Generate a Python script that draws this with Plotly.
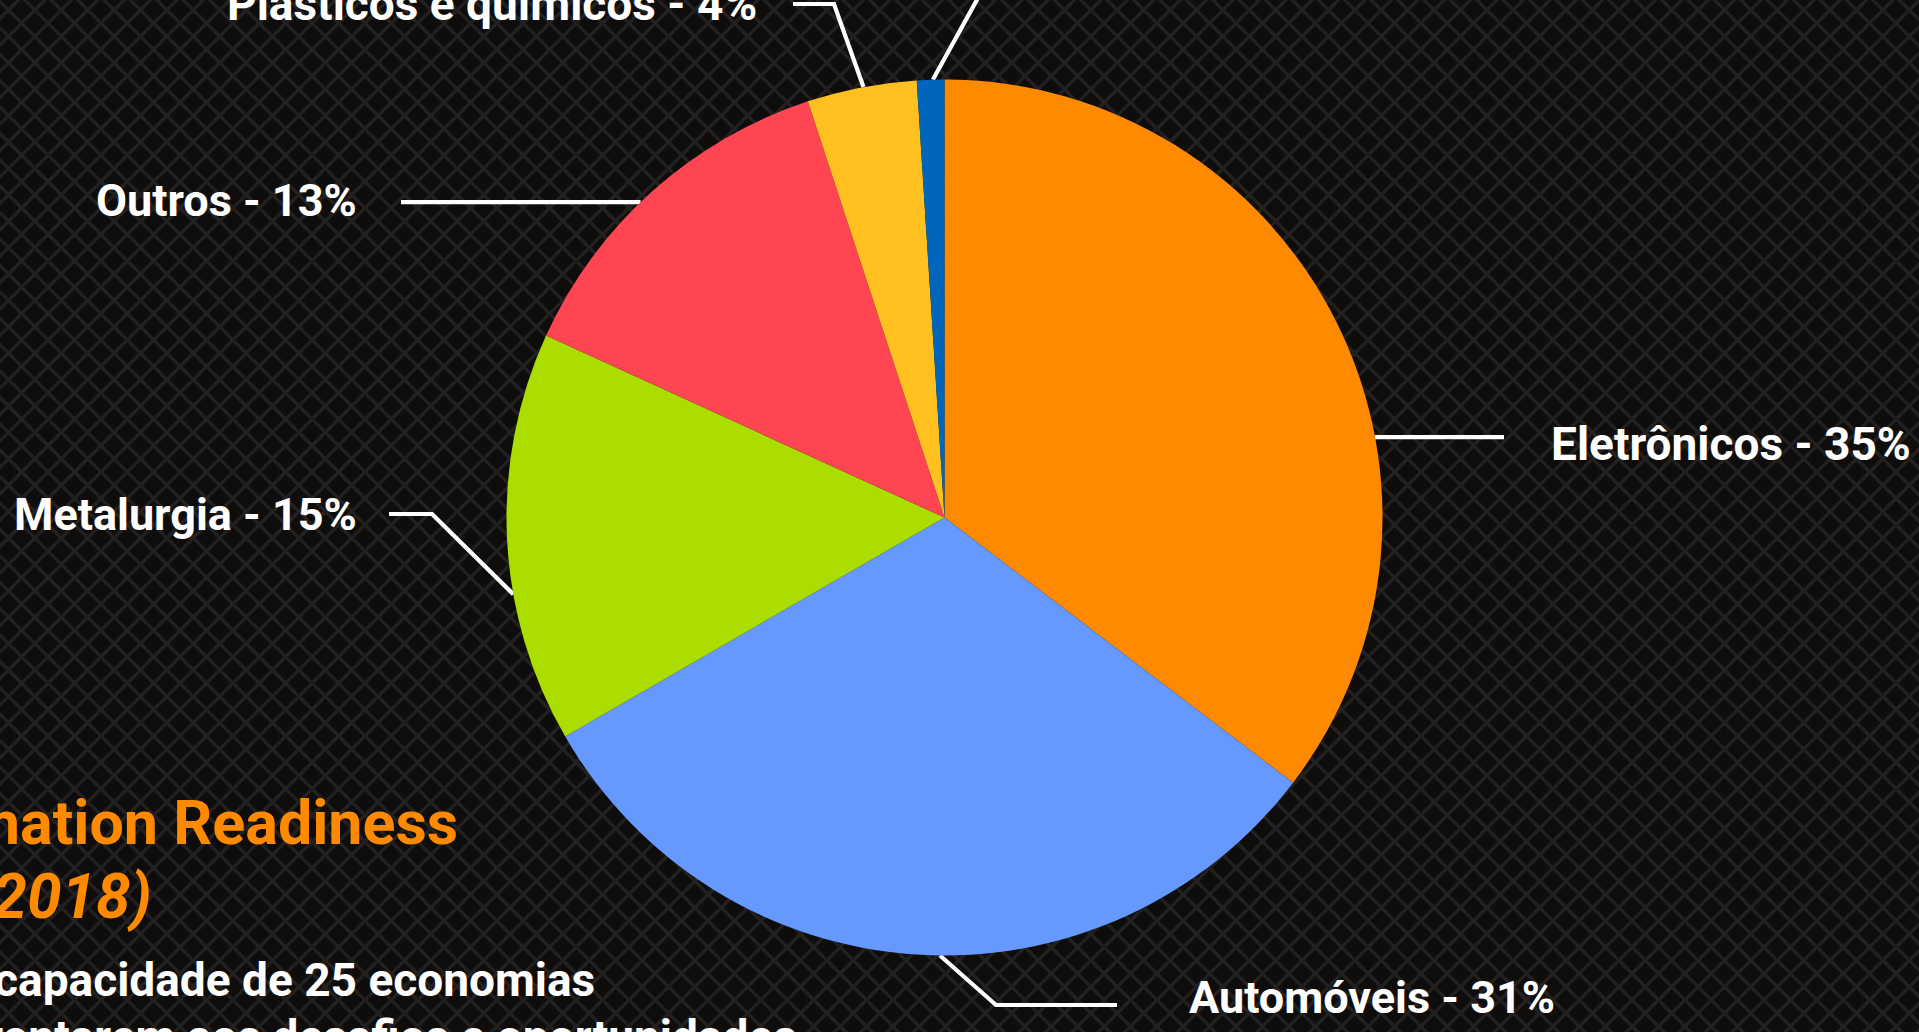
import math
import plotly.graph_objects as go

# ---------------- data ----------------
categories = ["Eletrônicos", "Automóveis", "Metalurgia", "Outros",
              "Plásticos e químicos", "Alimentos e bebidas"]
values = [35, 31, 15, 13, 4, 1]
slice_colors = ["#FF8A00", "#6699FF", "#ABDD00", "#FF4551", "#FFC020", "#0066BB"]

title_lines = ["The Automation Readiness", "Index (2018)"]
body_lines = ["O índice avalia a capacidade de 25 economias",
              "de se confrontarem aos desafios e oportunidades"]

# ---------------- layout constants (pixels) ----------------
W, H = 1919, 1032
CX, CY, R = 944.5, 517.5, 438
BG = "#0f0d0c"
GRID = "#222120"
FONT = "Roboto"

# leader-line / label layout: fraction inside slice for anchor, elbow point, line end x, label pos
label_layout = [
    dict(frac=0.624, elbow=None, end_x=1504, text_x=1549, text_y=444, anchor="left", size=46),
    dict(frac=0.473, elbow=(996, 1005), end_x=1117, text_x=1187, text_y=997, anchor="left", size=45),
    dict(frac=0.365, elbow=(432, 514), end_x=389, text_x=359, text_y=514, anchor="right", size=45),
    dict(frac=0.455, elbow=None, end_x=401, text_x=359, text_y=200, anchor="right", size=45),
    dict(frac=0.517, elbow=(834, 4), end_x=793, text_x=759, text_y=4, anchor="right", size=46),
    dict(frac=0.58, elbow=(1010, -60), end_x=1060, text_x=1090, text_y=-60, anchor="left", size=46),
]

fig = go.Figure()

# ---------------- background diamond pattern ----------------
P = 26.4
off1, off2 = 24.9, 18.5
xs, ys = [], []
for k in range(-45, 120):
    c = k * P + off1
    xs += [c - 20, c + H + 20, None]
    ys += [-20, H + 20, None]
for k in range(-5, 160):
    c = k * P + off2
    xs += [c + 20, c - H - 20, None]
    ys += [-20, H + 20, None]
fig.add_trace(go.Scatter(x=xs, y=ys, mode="lines",
                         line=dict(color=GRID, width=3.4),
                         hoverinfo="skip", showlegend=False))

# ---------------- pie ----------------
fig.add_trace(go.Pie(
    labels=categories, values=values, sort=False, direction="clockwise",
    rotation=0, marker=dict(colors=slice_colors, line=dict(width=0)),
    textinfo="none", hoverinfo="skip", showlegend=False,
    domain=dict(x=[(CX - R) / W, (CX + R) / W],
                y=[(H - CY - R) / H, (H - CY + R) / H]),
))

# ---------------- leader lines & labels ----------------
total = sum(values)
cum = 0
for cat, val, lay in zip(categories, values, label_layout):
    start = cum / total * 360
    span = val / total * 360
    cum += val
    ang = math.radians(start + lay["frac"] * span)
    ax = CX + R * math.sin(ang)
    ay = CY - R * math.cos(ang)
    if lay["elbow"] is None:
        px = [ax, lay["end_x"]]
        py = [ay, ay]
    else:
        ex, ey = lay["elbow"]
        px = [ax, ex, lay["end_x"]]
        py = [ay, ey, ey]
    fig.add_trace(go.Scatter(x=px, y=py, mode="lines",
                             line=dict(color="#FFFFFF", width=4.2),
                             hoverinfo="skip", showlegend=False))
    fig.add_annotation(x=lay["text_x"], y=lay["text_y"], xref="x", yref="y",
                       text=f"{cat} - {val}%", showarrow=False,
                       xanchor=lay["anchor"], yanchor="middle",
                       font=dict(family=FONT, size=lay["size"], color="#FFFFFF", weight="bold"))

# ---------------- side text (partly off-screen) ----------------
fig.add_annotation(x=460, y=823, xref="x", yref="y", text=title_lines[0],
                   showarrow=False, xanchor="right", yanchor="middle",
                   font=dict(family=FONT, size=61, color="#FF8A00", weight="bold"))
fig.add_annotation(x=154, y=896, xref="x", yref="y", text=f"<i>{title_lines[1]}</i>",
                   showarrow=False, xanchor="right", yanchor="middle",
                   font=dict(family=FONT, size=62, color="#FF8A00", weight="bold"))
fig.add_annotation(x=597, y=980, xref="x", yref="y", text=body_lines[0],
                   showarrow=False, xanchor="right", yanchor="middle",
                   font=dict(family=FONT, size=46, color="#FFFFFF", weight="bold"))
fig.add_annotation(x=799 / W, y=(H - 1037) / H, xref="paper", yref="paper", text=body_lines[1],
                   showarrow=False, xanchor="right", yanchor="middle",
                   font=dict(family=FONT, size=46, color="#FFFFFF", weight="bold"))

fig.update_layout(
    width=W, height=H, margin=dict(l=0, r=0, t=0, b=0),
    paper_bgcolor=BG, plot_bgcolor=BG,
    xaxis=dict(range=[0, W], visible=False, fixedrange=True, domain=[0, 1]),
    yaxis=dict(range=[H, 0], visible=False, fixedrange=True, domain=[0, 1]),
    showlegend=False,
)

fig.write_html("out.html", config={"displayModeBar": False},
               post_script="document.body.style.margin='0';document.body.style.overflow='hidden';document.body.style.background='%s';" % BG)
